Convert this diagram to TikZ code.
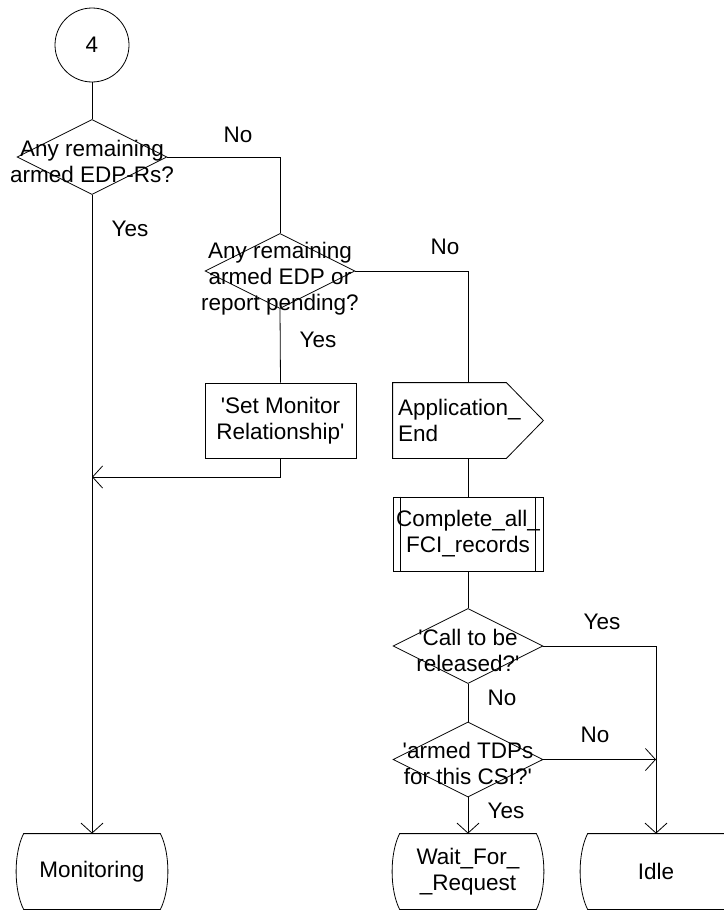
\documentclass[tikz,border=0pt]{standalone}
\usepackage{fontspec}
\setmainfont{Liberation Sans}
\usepackage{tikz}
\usetikzlibrary{arrows.meta,positioning,shapes.geometric}
\newcommand{\sq}{\textquotesingle}
% outline of an SDL state symbol round a node
\newcommand{\stateoutline}[1]{%
  \draw ([xshift=7pt]#1.north west) -- ([xshift=-7pt]#1.north east)
    .. controls ([xshift=3pt,yshift=-20pt]#1.north east) and ([xshift=3pt,yshift=20pt]#1.south east) .. ([xshift=-7pt]#1.south east)
    -- ([xshift=7pt]#1.south west)
    .. controls ([xshift=-3pt,yshift=20pt]#1.south west) and ([xshift=-3pt,yshift=-20pt]#1.north west) .. cycle;}
\tikzset{
  every node/.style={font=\fontsize{22.5}{26}\selectfont},
  connector/.style={circle, draw, minimum size=74pt, inner sep=0pt},
  decision/.style={diamond, draw, minimum width=150pt, minimum height=75pt, inner sep=0pt},
  dtext/.style={align=center, inner sep=0pt, yshift=-4pt},
  taskbox/.style={rectangle, draw, minimum width=151pt, minimum height=75pt, align=center},
  outsig/.style={rectangle, minimum width=150pt, minimum height=75pt, text width=140pt, inner xsep=5pt, align=left},
  procbox/.style={rectangle, draw, minimum width=150pt, minimum height=74pt, align=center, inner sep=0pt},
  sdlstate/.style={rectangle, minimum width=150pt, minimum height=75pt, align=center}
}

\begin{document}
\begin{tikzpicture}[x=1pt, y=-1pt, line width=0.8pt, >={Straight Barb[length=10pt,width=22pt]}]
\useasboundingbox (0,0) rectangle (723,910);

\node[connector] (c4) at (92,45) {4};
\node[decision, label={[dtext]center:{Any remaining\\armed EDP-Rs?}}] (d1) at (92,157) {};
\node[decision, label={[dtext, yshift=-4pt]center:{Any remaining\\armed EDP or\\report pending?}}] (d2) at (280,271) {};
\node[taskbox] (setmon) at (280.5,420.5) {\sq Set Monitor\\Relationship\sq};
\node[outsig] (append) at (468,420.5) {Application\_\\End};
\draw (append.north west) -- ([xshift=-37pt]append.north east) -- (append.east)
  -- ([xshift=-37pt]append.south east) -- (append.south west) -- cycle;
\node[procbox] (fci) at (468,534) {Complete\_all\_\\FCI\_records};
\foreach \s in {8,-8} {\draw ([xshift=\s pt]fci.north -| fci.\ifnum\s>0 west\else east\fi) -- ([xshift=\s pt]fci.south -| fci.\ifnum\s>0 west\else east\fi);}
\node[decision, label={[dtext]center:{\sq Call to be\\released?\sq}}] (d3) at (468,646) {};
\node[decision, label={[dtext]center:{\sq armed TDPs\\for this CSI?\sq}}] (d4) at (468,759.5) {};

\node[sdlstate] (mon) at (92,871.5) {Monitoring};
\node[sdlstate] (wait) at (468,871.5) {Wait\_For\_\\\_Request};
\node[sdlstate] (idle) at (656,871.5) {Idle};
\foreach \n in {mon,wait,idle} {\stateoutline{\n}}

% connectors
\coordinate (join) at (92,477);
\coordinate (idlejoin) at (656,759.5);
\draw (c4) -- (d1);
\draw (d1.east) -| (d2.north);
\draw[->] (d1.south) -- (mon.north);
\draw (d2.south) -- (setmon.north);
\draw (d2.east) -| (append.north);
\draw[->] (setmon.south) |- (join);
\draw (append.south) -- (fci.north);
\draw (fci.south) -- (d3.north);
\draw[->] (d3.east) -| (idle.north);
\draw (d3.south) -- (d4.north);
\draw[->] (d4.east) -- (idlejoin);
\draw[->] (d4.south) -- (wait.north);

% branch labels
\node (no1) at (238,135) {No};
\node (yes1) at (130,229) {Yes};
\node (no2) at (445,247) {No};
\node (yes2) at (318,340) {Yes};
\node (yes3) at (602,622) {Yes};
\node (no3) at (502,698) {No};
\node (no4) at (595,735) {No};
\node (yes4) at (506,811) {Yes};
\end{tikzpicture}
\end{document}
